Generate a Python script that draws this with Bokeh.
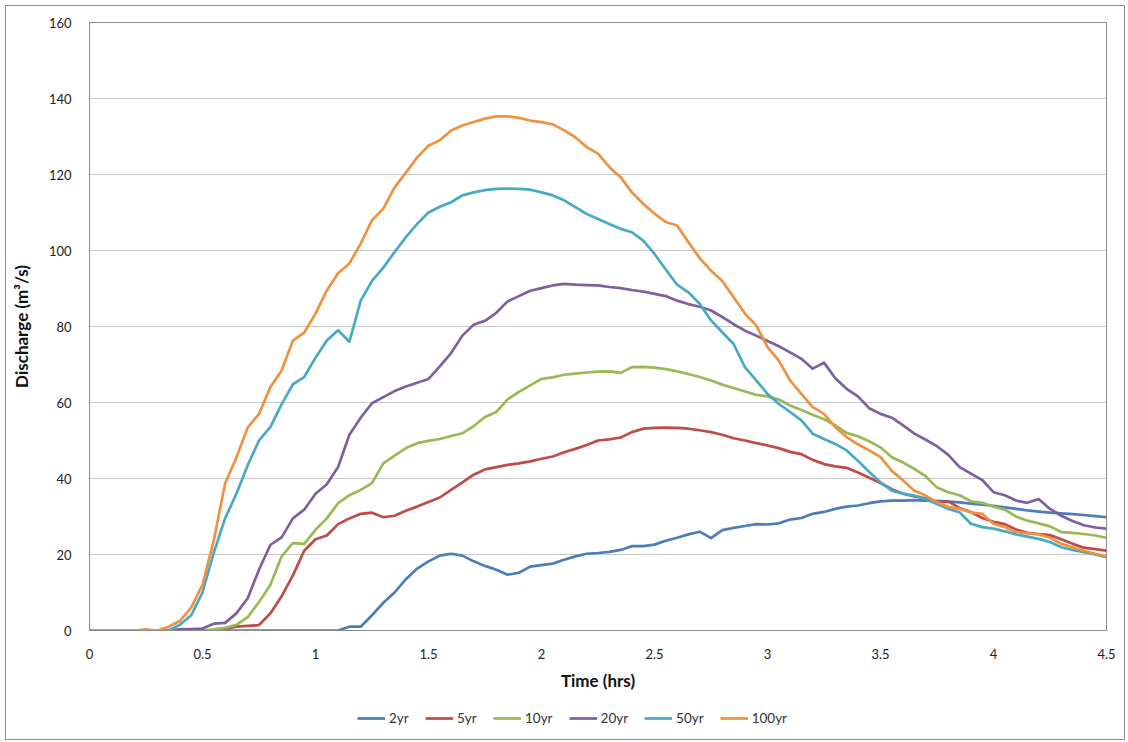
from bokeh.plotting import figure
from bokeh.layouts import column
from bokeh.models import Range1d, Legend, LegendItem, FixedTicker, CustomJSTickFormatter
from bokeh.embed import file_html
from bokeh.resources import INLINE

# time in hours (0.05 h steps)
time_hrs = [round(i * 0.05, 2) for i in range(91)]

q_2yr = [0, 0, 0, 0, 0, 0, 0, 0, 0, 0,
         0, 0, 0, 0, 0, 0, 0, 0, 0, 0,
         0, 0, 0, 1.0, 1.0, 4.0, 7.3, 10.0, 13.5, 16.3,
         18.2, 19.7, 20.2, 19.7, 18.2, 17.0, 16.0, 14.7, 15.2, 16.8,
         17.2, 17.6, 18.6, 19.5, 20.2, 20.4, 20.7, 21.2, 22.2, 22.2,
         22.6, 23.6, 24.4, 25.3, 26.0, 24.3, 26.4, 27.0, 27.5, 28.0,
         27.9, 28.2, 29.2, 29.6, 30.7, 31.2, 32.0, 32.6, 32.9, 33.5,
         34.0, 34.2, 34.2, 34.3, 34.2, 34.1, 33.9, 33.7, 33.4, 33.1,
         32.8, 32.4, 32.0, 31.6, 31.3, 31.0, 30.8, 30.6, 30.4, 30.1,
         29.8]

q_5yr = [0, 0, 0, 0, 0, 0, 0, 0, 0, 0,
         0, 0, 0.5, 1.0, 1.2, 1.4, 4.5, 9.0, 14.5, 21.0,
         24.0, 25.0, 28.0, 29.5, 30.7, 31.0, 29.8, 30.2, 31.5, 32.6,
         33.8, 35.0, 37.0, 39.0, 41.0, 42.4, 43.0, 43.6, 44.0, 44.5,
         45.2, 45.8, 46.9, 47.8, 48.8, 50.0, 50.3, 50.8, 52.2, 53.1,
         53.3, 53.4, 53.3, 53.1, 52.7, 52.2, 51.5, 50.6, 50.0, 49.3,
         48.7, 48.0, 47.0, 46.4, 44.9, 43.8, 43.2, 42.8, 41.6, 40.2,
         38.8, 37.2, 36.0, 35.3, 34.8, 33.8, 34.0, 32.2, 31.2, 29.6,
         28.6, 28.0, 26.6, 25.7, 25.4, 25.1, 24.0, 22.8, 21.8, 21.4,
         21.0]

q_10yr = [0, 0, 0, 0, 0, 0, 0, 0, 0, 0,
          0, 0.3, 0.7, 1.5, 3.5, 7.5, 12.0, 19.5, 23.0, 22.8,
          26.5, 29.5, 33.5, 35.6, 37.0, 38.8, 44.0, 46.0, 48.0, 49.3,
          49.9, 50.4, 51.2, 51.9, 53.8, 56.2, 57.5, 60.8, 62.8, 64.5,
          66.2, 66.6, 67.3, 67.6, 67.9, 68.1, 68.2, 67.8, 69.3, 69.4,
          69.2, 68.8, 68.2, 67.5, 66.7, 65.8, 64.7, 63.8, 62.9, 62.0,
          61.6, 60.8, 59.2, 58.0, 56.8, 55.6, 54.0, 52.0, 51.1, 49.8,
          48.2, 45.6, 44.2, 42.5, 40.6, 37.6, 36.4, 35.6, 34.0, 33.6,
          32.6, 31.8, 30.0, 28.9, 28.2, 27.4, 25.9, 25.7, 25.4, 25.0,
          24.4]

q_20yr = [0, 0, 0, 0, 0, 0, 0, 0, 0.3, 0.4,
          0.5, 1.8, 2.0, 4.5, 8.5, 16.0, 22.5, 24.5, 29.5, 31.8,
          36.0, 38.5, 43.0, 51.5, 56.0, 59.8, 61.4, 63.0, 64.2, 65.2,
          66.2, 69.5, 73.0, 77.6, 80.5, 81.5, 83.6, 86.6, 88.0, 89.4,
          90.1, 90.8, 91.2, 91.0, 90.9, 90.8, 90.4, 90.1, 89.6, 89.2,
          88.6, 88.0, 86.8, 85.9, 85.2, 84.2, 82.5, 80.6, 78.9, 77.6,
          76.2, 74.8, 73.2, 71.5, 68.9, 70.5, 66.4, 63.6, 61.6, 58.5,
          57.0, 56.0, 54.0, 51.8, 50.2, 48.5, 46.2, 43.0, 41.3, 39.6,
          36.4, 35.6, 34.2, 33.6, 34.6, 32.0, 30.2, 28.8, 27.7, 27.1,
          26.8]

q_50yr = [0, 0, 0, 0, 0, 0, 0, 0, 1.5, 4.0,
          10.0, 20.5, 29.5, 36.0, 43.5, 50.0, 53.5, 59.5, 64.8, 66.7,
          71.8, 76.3, 79.0, 76.0, 86.8, 92.0, 95.5, 99.6, 103.5, 107.0,
          110.0, 111.5, 112.7, 114.5, 115.3, 115.9, 116.2, 116.3, 116.2, 116.0,
          115.3, 114.5, 113.2, 111.4, 109.6, 108.3, 107.0, 105.7, 104.8, 102.6,
          99.1, 95.0, 91.0, 89.0, 86.0, 81.6, 78.5, 75.4, 69.3, 65.8,
          62.3, 59.6, 57.5, 55.3, 51.8, 50.4, 49.1, 47.4, 44.7, 41.7,
          39.0, 36.8, 36.0, 35.5, 34.6, 33.3, 32.0, 31.1, 28.1, 27.2,
          26.8, 26.1, 25.3, 24.7, 24.1, 23.3, 21.9, 21.2, 20.6, 20.0,
          19.3]

q_100yr = [0, 0, 0, 0, 0, 0.3, 0, 1.0, 2.5, 6.0,
           12.0, 23.7, 38.7, 45.5, 53.4, 57.0, 64.0, 68.4, 76.3, 78.4,
           83.4, 89.5, 94.0, 96.6, 101.8, 108.0, 111.0, 116.6, 120.5, 124.5,
           127.6, 129.0, 131.6, 132.9, 133.8, 134.7, 135.3, 135.3, 134.9, 134.2,
           133.8, 133.2, 131.6, 129.8, 127.2, 125.5, 122.0, 119.3, 115.3, 112.3,
           109.7, 107.5, 106.6, 102.2, 98.0, 94.7, 92.0, 87.7, 83.4, 80.3,
           74.6, 71.0, 65.8, 62.3, 58.8, 57.0, 53.5, 50.9, 49.0, 47.4,
           45.6, 42.0, 39.5, 36.8, 35.5, 33.8, 32.5, 32.0, 31.1, 30.7,
           28.1, 27.2, 25.9, 25.6, 25.3, 24.4, 22.8, 21.9, 21.0, 20.2,
           19.5]

series_names = ["2yr", "5yr", "10yr", "20yr", "50yr", "100yr"]
series_values = [q_2yr, q_5yr, q_10yr, q_20yr, q_50yr, q_100yr]
series_colors = ["#4A7EBB", "#BE4B48", "#98B954", "#7D60A0", "#46AAC5", "#F0913F"]

x_ticks = [0, 0.5, 1, 1.5, 2, 2.5, 3, 3.5, 4, 4.5]
y_ticks = [0, 20, 40, 60, 80, 100, 120, 140, 160]

FONT = "Lato"

# main chart
p = figure(width=1118, height=690, output_backend="svg", toolbar_location=None,
           x_range=Range1d(0, 4.5), y_range=Range1d(0, 160),
           min_border_left=83, min_border_right=18, min_border_top=16, min_border_bottom=66)

for name, vals, col in zip(series_names, series_values, series_colors):
    p.line(time_hrs, vals, line_color=col, line_width=2.7, line_join="round")

p.outline_line_color = "#8c8c8c"
p.outline_line_width = 1

p.xgrid.grid_line_color = None
p.ygrid.grid_line_color = "#c8c8c8"
p.ygrid.grid_line_width = 1

for ax in (p.xaxis[0], p.yaxis[0]):
    ax.major_tick_line_color = None
    ax.minor_tick_line_color = None
    ax.axis_line_color = "#8c8c8c"
    ax.major_label_text_font = FONT
    ax.major_label_text_font_size = "13px"
    ax.major_label_text_color = "#222222"
    ax.axis_label_text_font = FONT
    ax.axis_label_text_font_size = "17px"
    ax.axis_label_text_font_style = "bold"
    ax.axis_label_text_color = "#111111"

p.xaxis.ticker = FixedTicker(ticks=x_ticks)
p.yaxis.ticker = FixedTicker(ticks=y_ticks)
p.xaxis.formatter = CustomJSTickFormatter(code="return tick.toString();")
p.xaxis.axis_label = "Time (hrs)"
p.yaxis.axis_label = "Discharge (m³/s)"
p.xaxis.major_label_standoff = 12
p.yaxis.major_label_standoff = 12
p.xaxis.axis_label_standoff = 8
p.yaxis.axis_label_standoff = 14

# legend strip below the chart (same series, drawn out of view; only the legend shows)
pl = figure(width=1118, height=43, output_backend="svg", toolbar_location=None,
            x_range=Range1d(0, 4.5), y_range=Range1d(1000, 1001),
            x_axis_location=None, y_axis_location=None,
            min_border_left=0, min_border_right=0, min_border_top=0, min_border_bottom=0)
pl.outline_line_color = None
pl.xgrid.grid_line_color = None
pl.ygrid.grid_line_color = None

items = []
for name, vals, col in zip(series_names, series_values, series_colors):
    r = pl.line(time_hrs, vals, line_color=col, line_width=2.7)
    items.append(LegendItem(label=name, renderers=[r]))

legend = Legend(items=items, orientation="horizontal", location=(268, 13),
                label_text_font=FONT, label_text_font_size="13.5px", label_text_color="#333333",
                glyph_width=28, glyph_height=14, label_standoff=4, spacing=16,
                border_line_color=None, background_fill_alpha=0, margin=0, padding=0)
pl.add_layout(legend, "center")

layout = column(p, pl, spacing=0)
layout.styles = {"border": "1px solid #8c8c8c", "margin-left": "5px", "margin-top": "5px"}

open("out.html", "w").write(file_html(layout, INLINE))
